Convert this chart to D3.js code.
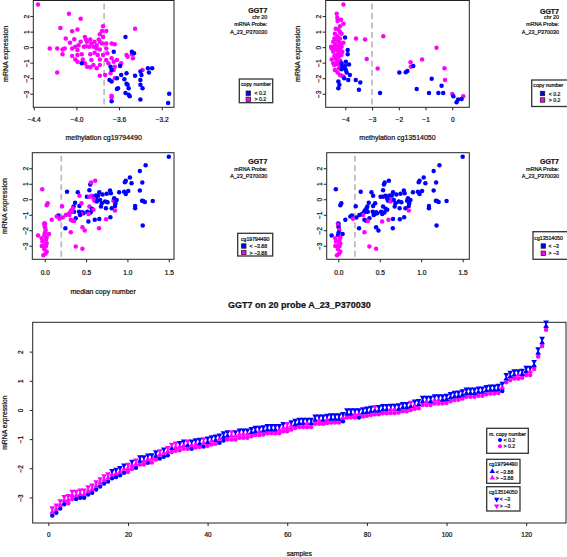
<!DOCTYPE html>
<html><head><meta charset="utf-8">
<script src="https://cdn.jsdelivr.net/npm/d3@7"></script>
<style>
body{margin:0;background:#fff}
svg{display:block}
text{font-family:"Liberation Sans",Arial,Helvetica,sans-serif;fill:#111;stroke:#111;stroke-width:0.22px}
</style>
</head><body>
<svg id="c" width="567" height="557"></svg>
<script>
// ---------------- DATA ----------------
// samples: median copy number and mRNA expression (panels 3, 4 and the bottom panel)
const copyNumber = [1.50,1.22,1.15,1.03,0.98,0.97,1.05,1.18,0.55,0.61,0.56,0.54,0.79,0.80,0.90,0.96,0.98,1.01,1.15,0.27,0.40,-0.03,0.42,0.51,0.54,0.57,0.60,0.62,0.645,0.66,0.62,0.59,0.60,0.63,0.67,0.69,0.73,0.76,0.83,0.84,0.855,0.87,0.85,0.81,0.74,0.68,0.54,0.57,0.59,0.556,0.516,0.53,0.468,0.456,0.44,0.427,0.42,0.444,0.367,0.35,0.355,0.415,0.34,0.32,0.306,0.286,0.327,0.298,0.254,0.21,0.165,0.218,0.375,0.315,0.335,0.355,0.528,0.605,0.66,0.742,0.794,0.85,1.093,1.093,1.177,1.19,1.21,1.306,1.185,0.25,0.315,0.456,0.484,0.657,0.375,0.456,0.085,0.145,0.177,0.024,0.036,0.052,-0.08,-0.004,0.004,-0.004,0.004,0.012,0.004,-0.004,0.024,-0.036,0.016,-0.028,0.024,-0.036,0.016,-0.004,0.024,0.008,-0.016,0.70,0.75,-0.01,0.01];
const expression = [2.75,2.19,1.83,1.40,1.20,1.10,1.03,1.08,0.95,1.20,1.08,0.58,0.56,0.39,0.45,0.49,0.34,0.54,0.56,0.49,0.45,0.65,0.22,0.17,0.17,0.22,0.17,0.24,0.22,0.45,0.00,0.04,-0.10,-0.15,-0.04,-0.26,-0.15,-0.20,-0.10,0.06,-0.26,-0.04,-0.43,-0.58,-0.58,-0.47,-0.47,-0.62,-0.67,-0.86,-0.80,-0.95,-0.90,-0.84,-0.95,-1.01,-0.43,-0.26,-0.22,-0.47,-0.80,-0.80,-0.58,-0.73,-0.86,-0.95,-0.80,-1.01,-1.01,-0.45,-1.05,-1.18,-1.23,-1.33,-1.38,-1.40,-1.44,-1.33,-1.27,-1.29,-1.16,-0.73,-0.43,-0.58,-0.09,-0.11,-0.17,-0.11,-1.70,-1.87,-2.13,-1.80,-2.02,-1.87,-3.05,-3.20,-1.33,-1.12,-1.25,-0.39,-0.26,-2.24,-2.34,-1.55,-1.60,-1.66,-1.81,-1.98,-2.15,-2.30,-2.45,-2.52,-2.62,-2.73,-2.84,-3.01,-3.01,-3.23,-3.38,-3.52,-3.62,0.30,0.35,-3.05,-2.90];
// 1 = cg19794490 above threshold (magenta), 0 = below (blue)
const cg19794490High = [0,0,0,0,0,0,0,0,0,1, 1,0,0,0,0,0,0,0,0,0, 0,1,1,0,1,1,0,0,0,0, 0,1,1,0,0,0,0,0,1,0, 0,0,0,0,0,0,1,0,1,0, 0,1,0,0,1,0,0,1,0,0, 0,0,1,1,1,1,1,1,1,1, 0,1,0,1,1,1,0,0,0,1, 0,1,0,0,0,0,0,0,0,0, 1,1,1,1,1,1,1,1,1,1, 1,1,1,1,1,1,1,1,1,1, 1,1,1,1,1,1,1,1,1,1, 1,0,0,1,1];
// 1 = cg13514050 above -3 (magenta)
const cg13514050High = [0,0,0,0,0,0,0,0,0,0, 0,0,0,0,0,0,0,0,0,0, 0,0,0,0,0,0,0,0,0,0, 1,0,0,1,0,0,0,0,0,0, 0,0,0,0,0,0,0,0,0,0, 0,0,0,0,0,0,0,0,0,0, 0,0,0,0,0,0,0,1,0,0, 0,0,0,0,0,1,1,1,0,0, 0,1,0,0,0,0,0,0,0,0, 1,0,0,0,1,1,0,0,1,0, 0,0,0,1,0,1,0,1,0,0, 1,1,1,1,1,1,1,1,1,1, 1,0,0,1,1];

// panel 1: methylation cg19794490 vs expression, flag 1 = copy number > 0.2
const panel1Points = [[-4.36,2.74,1],[-4.07,2.15,1],[-3.96,1.83,1],[-4.15,1.23,1],[-3.99,1.13,1],[-4.04,1.02,1],[-3.76,1.04,1],[-3.72,1.04,1],[-3.75,1.34,1],[-3.45,1.19,1],[-3.78,0.83,1],[-3.92,0.66,1],[-4.10,0.55,1],[-4.02,0.51,1],[-3.96,0.34,1],[-3.98,0.13,1],[-3.91,0.49,1],[-3.87,0.49,1],[-3.86,0.23,1],[-3.83,0.34,1],[-3.79,0.49,1],[-3.78,0.34,1],[-3.81,0.13,1],[-3.76,0.23,1],[-3.72,0.23,1],[-3.67,0.23,1],[-3.64,0.19,1],[-4.25,-0.09,1],[-4.18,-0.09,1],[-4.13,-0.15,1],[-4.11,-0.09,1],[-4.04,-0.09,1],[-4.01,0.02,1],[-3.93,0.02,1],[-3.91,0.06,1],[-3.88,0.02,1],[-3.81,-0.09,1],[-3.78,-0.15,1],[-3.72,-0.09,1],[-3.84,0.02,1],[-4.13,-0.45,1],[-4.04,-0.57,1],[-3.99,-0.51,1],[-3.87,-0.45,1],[-3.83,-0.36,1],[-3.80,-0.51,1],[-3.75,-0.51,1],[-3.71,-0.40,1],[-3.78,-0.79,1],[-3.72,-0.83,1],[-3.67,-0.72,1],[-3.62,-0.83,1],[-3.53,-0.51,1],[-3.48,-0.45,1],[-3.47,-0.72,1],[-3.94,-0.79,1],[-3.92,-1.04,1],[-3.99,-0.94,1],[-3.90,-1.26,1],[-3.87,-1.30,1],[-3.84,-1.15,1],[-3.81,-1.36,1],[-3.78,-1.15,1],[-3.70,-1.04,1],[-3.65,-0.94,1],[-3.64,-1.26,1],[-3.59,-1.15,1],[-3.58,-1.04,1],[-3.52,-0.62,1],[-4.18,-1.64,1],[-3.68,-1.68,1],[-3.65,-1.47,1],[-3.64,-2.0,1],[-3.73,-1.79,1],[-3.78,-1.85,1],[-3.38,-1.47,1],[-3.67,-3.13,1],[-3.67,-3.23,1],[-3.90,0.34,1],[-3.75,0.66,1],[-3.99,-0.19,1],[-4.06,0.28,1],[-3.95,-0.45,1],[-3.86,-0.83,1],[-4.01,-0.79,1],
[-3.95,-1.04,0],[-3.54,0.66,0],[-3.65,-0.30,0],[-3.46,-0.40,0],[-3.68,-1.26,0],[-3.67,-1.47,0],[-3.59,-1.21,0],[-3.58,-1.79,0],[-3.53,-1.68,0],[-3.69,-2.11,0],[-3.67,-2.21,0],[-3.62,-2.0,0],[-3.55,-2.06,0],[-3.53,-2.36,0],[-3.52,-2.43,0],[-3.45,-1.85,0],[-3.40,-1.57,0],[-3.39,-1.79,0],[-3.40,-2.11,0],[-3.40,-2.43,0],[-3.33,-1.36,0],[-3.32,-1.64,0],[-3.29,-1.36,0],[-3.51,-2.64,0],[-3.54,-2.96,0],[-3.51,-3.06,0],[-3.50,-3.17,0],[-3.62,-2.70,0],[-3.61,-2.64,0],[-3.67,-3.49,0],[-3.40,-3.38,0],[-3.38,-2.64,0],[-3.14,-3.60,0],[-3.13,-3.00,0],[-3.48,-0.30,0]];

// panel 2: methylation cg13514050 vs expression, flag 1 = copy number > 0.2
const panel2Points = [[-4.07,2.74,1],[-4.32,2.15,1],[-4.30,1.89,1],[-4.29,1.68,1],[-4.20,1.34,1],[-4.36,1.19,1],[-4.26,1.13,1],[-4.20,0.98,1],[-4.14,0.87,1],[-4.41,0.55,1],[-4.32,0.49,1],[-4.26,0.40,1],[-4.20,0.55,1],[-4.39,0.23,1],[-4.26,0.13,1],[-4.16,0.23,1],[-4.07,0.28,1],[-4.51,-0.09,1],[-4.39,-0.15,1],[-4.29,-0.19,1],[-4.20,-0.15,1],[-4.14,0.02,1],[-4.26,-0.40,1],[-4.32,-0.51,1],[-4.24,-0.62,1],[-4.14,-0.51,1],[-4.51,-0.79,1],[-4.41,-1.15,1],[-4.32,-1.09,1],[-4.24,-1.04,1],[-4.20,-1.26,1],[-4.39,-1.47,1],[-4.29,-1.64,1],[-4.20,-1.79,1],[-4.14,-1.85,1],[-4.07,-1.89,1],[-4.45,0.34,1],[-4.39,0.87,1],[-4.45,-0.30,1],[-4.32,-0.83,1],[-4.41,-0.57,1],[-4.11,-0.30,1],[-4.39,0.02,1],[-4.29,0.70,1],[-4.24,-1.36,1],[-4.45,-1.04,1],[-4.36,-0.72,1],[-4.19,-0.87,1],[-4.24,-0.09,1],[-4.53,0.02,1],[-3.60,0.55,1],[-3.26,0.49,1],[-2.58,0.70,1],[-3.20,-0.77,1],[-2.79,-1.38,1],[-1.56,-0.98,1],[-1.55,-1.26,1],[-1.13,-0.79,1],[-0.29,-1.36,1],[-0.27,-2.11,1],[-0.59,-0.04,1],[0.00,-3.02,1],[0.41,-3.17,1],[-4.07,1.51,1],[-4.16,1.77,1],
[-4.01,0.62,0],[-3.91,-0.45,0],[-3.98,-0.94,0],[-3.91,-0.19,0],[-4.14,-1.04,0],[-4.11,-1.26,0],[-4.04,-1.36,0],[-3.98,-1.47,0],[-4.14,-1.43,0],[-4.01,-1.21,0],[-3.86,-1.11,0],[-4.26,-2.21,0],[-4.22,-2.43,0],[-4.26,-2.64,0],[-3.89,-2.11,0],[-3.83,-1.79,0],[-3.61,-2.11,0],[-3.44,-2.28,0],[-3.49,-2.74,0],[-2.70,-2.96,0],[-1.98,-1.64,0],[-1.74,-1.62,0],[-1.68,-1.53,0],[-1.46,-1.21,0],[-1.33,-2.70,0],[-0.77,-2.04,0],[-0.87,-2.96,0],[-0.52,-2.96,0],[-0.40,-2.49,0],[-0.34,-2.96,0],[0.04,-3.17,0],[0.16,-3.55,0],[0.22,-3.38,0],[0.35,-3.34,0],[-3.95,-1.64,0],[-4.04,-2.0,0]];

// thresholds / reference lines and labels
const cnCut = 0.2, m1Line = -3.74, m2Cut = -3;
const cnLegend = ["< 0.2", "> 0.2"];
const m1Legend = ["< \u22123.88", "> \u22123.88"];
const m2Legend = ["< \u22123", "> \u22123"];
const infoLines1 = ["GGT7", "chr 20", "mRNA Probe:", "A_23_P370030"];
const infoLines2 = ["GGT7", "mRNA Probe:", "A_23_P370030"];
const ticksM1 = [-4.4, -4.0, -3.6, -3.2];
const ticksM2 = [-4, -3, -2, -1, 0];
const ticksCN = [0.0, 0.5, 1.0, 1.5];
const ticksExpr = [-3, -2, -1, 0, 1, 2];
const ticksSamples = [0, 20, 40, 60, 80, 100, 120];

// ---------------- DRAWING ----------------
const BLUE = "#0000ff", MAG = "#ff00ff";
const svg = d3.select("#c");
const fmt1 = d3.format(".1f"), fmt0 = d3.format("d");

function drawPanel(o) {
  const g = svg.append("g");
  const x = d3.scaleLinear().domain(o.xDomain).range([o.left, o.right]);
  const y = d3.scaleLinear().domain(o.yDomain).range([o.bottom, o.top]);
  if (o.vline != null) {
    g.append("line").attr("x1", x(o.vline)).attr("x2", x(o.vline))
      .attr("y1", o.top + 3).attr("y2", o.bottom - 1)
      .attr("stroke", "#bdbdbd").attr("stroke-width", 1.8).attr("stroke-dasharray", "6,3.5");
  }
  const ax = g.append("g").attr("transform", `translate(0,${o.bottom})`)
    .call(d3.axisBottom(x).tickValues(o.xTicks).tickFormat(o.xFmt).tickSize(3));
  ax.select(".domain").remove();
  ax.selectAll("line").attr("stroke", "#222");
  ax.selectAll("text").attr("y", o.xLabGap).attr("dy", "0.35em").attr("font-size", o.fs).style("font-family", null);
  const ay = g.append("g").attr("transform", `translate(${o.left},0)`)
    .call(d3.axisLeft(y).tickValues(ticksExpr).tickFormat(fmt0).tickSize(3));
  ay.select(".domain").remove();
  ay.selectAll("line").attr("stroke", "#222");
  ay.selectAll("text").attr("x", 0).attr("dy", "0.35em").attr("text-anchor", "middle")
    .attr("transform", `translate(${-o.yLabGap},0) rotate(-90)`).attr("font-size", o.fs).style("font-family", null);
  g.selectAll(".tick text").attr("fill", "#111");
  g.append("rect").attr("x", o.left).attr("y", o.top).attr("width", o.right - o.left).attr("height", o.bottom - o.top)
    .attr("fill", "none").attr("stroke", "#222").attr("stroke-width", 1);
  if (o.xTitle) g.append("text").attr("x", (o.left + o.right) / 2).attr("y", o.xTitleY).attr("text-anchor", "middle")
    .attr("dominant-baseline", "central").attr("font-size", o.titleFs).text(o.xTitle);
  if (o.yTitle) g.append("text").attr("transform", `translate(${o.yTitleX},${(o.top + o.bottom) / 2}) rotate(-90)`)
    .attr("text-anchor", "middle").attr("dominant-baseline", "central").attr("font-size", o.titleFs).text(o.yTitle);
  return {g, x, y};
}

function scatter(p, xs, ys, flags) {
  p.g.append("g").selectAll("circle").data(d3.range(xs.length)).join("circle")
    .attr("cx", i => p.x(xs[i])).attr("cy", i => p.y(ys[i])).attr("r", 2.25)
    .attr("fill", i => flags[i] ? MAG : BLUE);
}

function infoText(xr, ys, lines) {
  lines.forEach((t, i) => {
    svg.append("text").attr("x", xr).attr("y", ys[i]).attr("text-anchor", "end").attr("dominant-baseline", "central")
      .attr("font-size", i === 0 ? 7 : 5.4).attr("font-weight", i === 0 ? "bold" : "normal").text(t);
  });
}

function symbolPath(shape, size) {
  if (shape === "up" || shape === "down") return d3.symbol().type(d3.symbolTriangle).size(size)();
  return d3.symbol().type(d3.symbolCircle).size(size)();
}

function legend(c) {
  const g = svg.append("g");
  g.append("rect").attr("x", c.x0).attr("y", c.y0).attr("width", c.x1 - c.x0).attr("height", c.y1 - c.y0)
    .attr("fill", "#fff").attr("stroke", "#333").attr("stroke-width", 1.3);
  g.append("text").attr("x", c.tx).attr("y", c.ty).attr("text-anchor", c.tAnchor).attr("dominant-baseline", "central")
    .attr("font-size", 5.2).text(c.title);
  c.labels.forEach((lab, i) => {
    const col = i === 0 ? BLUE : MAG;
    if (c.shape === "square") {
      g.append("rect").attr("x", c.sx - 2.2).attr("y", c.rows[i] - 2.2).attr("width", 4.4).attr("height", 4.4)
        .attr("fill", col).attr("stroke", "#222").attr("stroke-width", 0.8);
    } else {
      g.append("path").attr("d", symbolPath(c.shape, 13))
        .attr("transform", `translate(${c.sx},${c.rows[i]})${c.shape === "down" ? " rotate(180)" : ""}`).attr("fill", col);
    }
    g.append("text").attr("x", c.lx).attr("y", c.rows[i]).attr("dominant-baseline", "central").attr("font-size", 5.2).text(lab);
  });
}

const FS = 6.6, TFS = 7;
const exprDomain = [-3.875, 3.005];

// Panel 1
const p1 = drawPanel({left: 33.3, right: 174, top: 0.5, bottom: 107.3, xDomain: [-4.404, -3.085], yDomain: exprDomain,
  xTicks: ticksM1, xFmt: fmt1, fs: FS, titleFs: TFS, xLabGap: 12.3, yLabGap: 7, vline: m1Line,
  xTitle: "methylation cg19794490", xTitleY: 137.5, yTitle: "mRNA expression", yTitleX: 5});
scatter(p1, panel1Points.map(d => d[0]), panel1Points.map(d => d[1]), panel1Points.map(d => d[2]));

// Panel 2
const p2 = drawPanel({left: 325.7, right: 469.3, top: 0.5, bottom: 107.3, xDomain: [-4.733, 0.636], yDomain: exprDomain,
  xTicks: ticksM2, xFmt: fmt0, fs: FS, titleFs: TFS, xLabGap: 12.3, yLabGap: 7, vline: m2Cut,
  xTitle: "methylation cg13514050", xTitleY: 137.5, yTitle: "mRNA expression", yTitleX: 297});
scatter(p2, panel2Points.map(d => d[0]), panel2Points.map(d => d[1]), panel2Points.map(d => d[2]));

// Panel 3
const p3 = drawPanel({left: 32.3, right: 174, top: 152.7, bottom: 259.3, xDomain: [-0.15, 1.563], yDomain: exprDomain,
  xTicks: ticksCN, xFmt: fmt1, fs: FS, titleFs: TFS, xLabGap: 13.5, yLabGap: 7, vline: cnCut,
  xTitle: "median copy number", xTitleY: 291, yTitle: "mRNA expression", yTitleX: 4.5});
scatter(p3, copyNumber, expression, cg19794490High);

// Panel 4
const p4 = drawPanel({left: 326.7, right: 469.3, top: 152.7, bottom: 259.3, xDomain: [-0.14, 1.58], yDomain: exprDomain,
  xTicks: ticksCN, xFmt: fmt1, fs: FS, titleFs: TFS, xLabGap: 13.5, yLabGap: 7, vline: cnCut});
scatter(p4, copyNumber, expression, cg13514050High);

// info texts
infoText(267.3, [10.7, 17.3, 24, 31.7], infoLines1);
infoText(559, [11, 17.3, 24, 31.7], infoLines1);
infoText(267.3, [161.7, 169.3, 176], infoLines2);
infoText(559, [161, 169.3, 175.7], infoLines2);

// top legends
legend({x0: 239.3, y0: 79, x1: 272.7, y1: 102.7, tx: 256, ty: 84.3, tAnchor: "middle", title: "copy number",
  labels: cnLegend, shape: "square", sx: 248.3, lx: 254.5, rows: [93.2, 99.3]});
legend({x0: 531.7, y0: 80, x1: 585, y1: 106.5, tx: 533.3, ty: 85.3, tAnchor: "start", title: "copy number",
  labels: cnLegend, shape: "square", sx: 542.5, lx: 548.8, rows: [93.5, 100]});
legend({x0: 237.7, y0: 233.3, x1: 272.7, y1: 256, tx: 255.2, ty: 238.5, tAnchor: "middle", title: "cg19794490",
  labels: m1Legend, shape: "square", sx: 243.8, lx: 249.5, rows: [246, 252.5]});
legend({x0: 533, y0: 231.7, x1: 585, y1: 259.3, tx: 534.3, ty: 237.7, tAnchor: "start", title: "cg13514050",
  labels: m2Legend, shape: "square", sx: 543.3, lx: 548.5, rows: [246, 253.3]});

// ---------------- bottom panel ----------------
const order = d3.range(expression.length).sort((a, b) => expression[a] - expression[b]);
const pb = drawPanel({left: 32.7, right: 566, top: 322.3, bottom: 523, xDomain: [-3.92, 130.0], yDomain: exprDomain,
  xTicks: ticksSamples, xFmt: fmt0, fs: 6.4, titleFs: 6.8, xLabGap: 12, yLabGap: 11.5,
  xTitle: "samples", xTitleY: 553, yTitle: "mRNA expression", yTitleX: 4.5});
svg.append("text").attr("x", (32.7 + 566) / 2).attr("y", 305).attr("text-anchor", "middle").attr("dominant-baseline", "central")
  .attr("font-size", 9).attr("font-weight", "bold").text("GGT7 on 20 probe A_23_P370030");

const upShift = 0.12, downShift = 0.26;
const gb = pb.g.append("g");
gb.selectAll("circle").data(order).join("circle")
  .attr("cx", (d, i) => pb.x(i + 1)).attr("cy", d => pb.y(expression[d])).attr("r", 2.25)
  .attr("fill", d => copyNumber[d] < cnCut ? BLUE : MAG);
gb.selectAll("path.up").data(order).join("path").attr("class", "up")
  .attr("d", symbolPath("up", 14))
  .attr("transform", (d, i) => `translate(${pb.x(i + 1)},${pb.y(expression[d] + upShift)})`)
  .attr("fill", d => cg19794490High[d] ? MAG : BLUE);
gb.selectAll("path.down").data(order).join("path").attr("class", "down")
  .attr("d", symbolPath("down", 14))
  .attr("transform", (d, i) => `translate(${pb.x(i + 1)},${pb.y(expression[d] + downShift)}) rotate(180)`)
  .attr("fill", d => cg13514050High[d] ? MAG : BLUE);

legend({x0: 486.7, y0: 428.3, x1: 528.3, y1: 453.3, tx: 507.5, ty: 433.5, tAnchor: "middle", title: "m. copy number",
  labels: cnLegend, shape: "circle", sx: 500, lx: 503.5, rows: [440, 446.3]});
legend({x0: 486.7, y0: 459.3, x1: 520, y1: 483.3, tx: 503.3, ty: 464.3, tAnchor: "middle", title: "cg19794490",
  labels: m1Legend, shape: "up", sx: 492.3, lx: 495.8, rows: [471.5, 477.8]});
legend({x0: 486.7, y0: 486.7, x1: 520, y1: 511, tx: 503.3, ty: 491.8, tAnchor: "middle", title: "cg13514050",
  labels: m2Legend, shape: "down", sx: 496.7, lx: 499.8, rows: [499.3, 506]});
</script>
</body></html>
